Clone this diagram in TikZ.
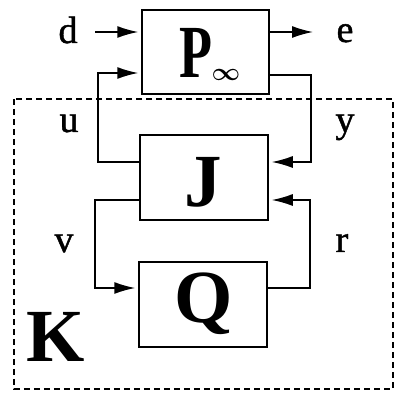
\documentclass[tikz,border=0pt]{standalone}
\usepackage{fontspec}
\setmainfont{Liberation Serif}
\newfontface\signalfont{Liberation Serif}[FakeBold=1.2]
\usetikzlibrary{arrows.meta,calc}
\begin{document}
\begin{tikzpicture}[x=1pt,y=-1pt,
  blockbox/.style={draw,line width=1.5pt,minimum width=127pt,minimum height=84pt,inner sep=0pt},
  sig/.style={line width=1.5pt},
  sigarrow/.style={sig,-{Latex[length=21pt,width=12pt]},shorten >=3pt},
  lbl/.style={font=\signalfont\fontsize{38}{38}\selectfont,inner sep=0pt,anchor=base},
  big/.style={font=\fontsize{75}{75}\selectfont\bfseries,inner sep=0pt,anchor=base},
  kbox/.style={draw,line width=1.2pt,dash pattern=on 6pt off 4pt}]
  \useasboundingbox (0,0) rectangle (400,398);

  % controller boundary
  \draw[kbox] (14,99) rectangle (393,389);

  % the three blocks
  \node[blockbox] (P) at (205.5,52) {};
  \node[blockbox,minimum width=128pt,minimum height=85pt] (J) at (204,177.5) {};
  \node[blockbox,minimum width=128pt,minimum height=85pt] (Q) at (203,304.5) {};

  \node[big,xscale=0.72] (Pl) at (196,78) {P};
  \node[font=\fontsize{26}{26}\selectfont\boldmath,inner sep=0pt] (inf) at (226,75) {$\infty$};
  \node[big] (Jl) at (203,207) {J};
  \node[big] (Ql) at (204,323) {Q};
  \node[big] (Kl) at (56,362) {K};

  % signal names
  \node[lbl] (d) at (68,43) {d};
  \node[lbl] (e) at (345,42) {e};
  \node[lbl] (u) at (69,132) {u};
  \node[lbl] (y) at (345,132) {y};
  \node[lbl] (v) at (64,252) {v};
  \node[lbl] (r) at (342,252) {r};

  % corner points of the loops
  \coordinate (din) at (95,32);
  \coordinate (eout) at (313,32);
  \coordinate (ul) at (98,0);
  \coordinate (yr) at (311,0);
  \coordinate (vl) at (95,0);
  \coordinate (rr) at (310,0);

  % exogenous input and output
  \draw[sigarrow] (din) -- (din -| P.west);
  \draw[sigarrow,shorten >=0pt] (P.east |- eout) -- (eout);

  % u: J to P
  \draw[sigarrow] ($(J.west)+(0,-15.5)$) -| (ul |- 0,73) -- ($(P.west)+(0,21)$);
  % y: P to J
  \draw[sigarrow] ($(P.east)+(0,23)$) -| (yr |- 0,162) -- ($(J.east)+(0,-15.5)$);
  % v: J to Q
  \draw[sigarrow] ($(J.west)+(0,22.5)$) -| (vl |- 0,288) -- ($(Q.west)+(0,-16.5)$);
  % r: Q to J
  \draw[sigarrow] ($(Q.east)+(0,-16.5)$) -| (rr |- 0,200) -- ($(J.east)+(0,22.5)$);
\end{tikzpicture}
\end{document}
